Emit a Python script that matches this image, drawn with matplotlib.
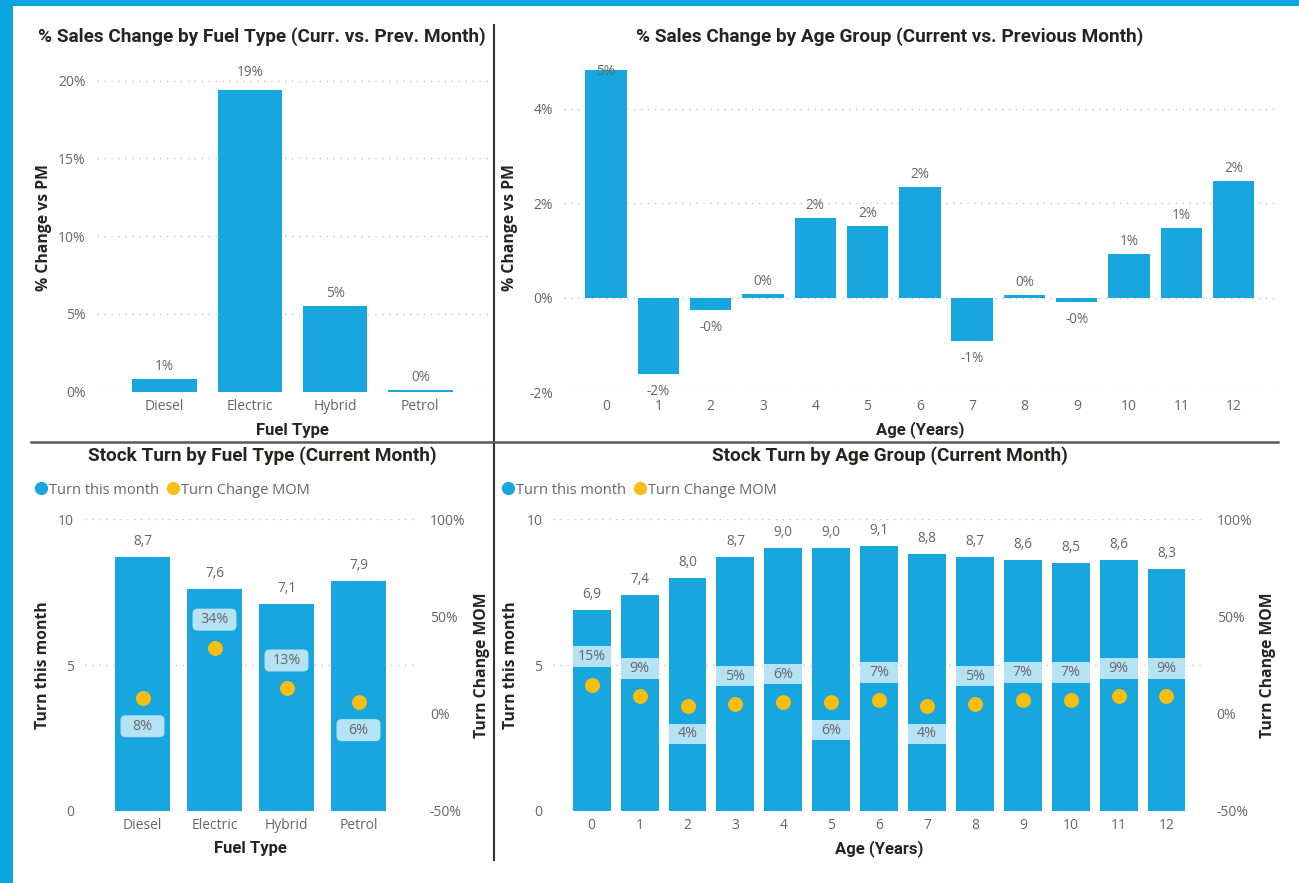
"""Stock / sales dashboard — four Power BI style panels redrawn with matplotlib."""

import matplotlib

matplotlib.use("Agg")  # headless
import matplotlib.pyplot as plt
from matplotlib.lines import Line2D
from matplotlib.patches import FancyBboxPatch, Rectangle

# ---- data -------------------------------------------------------------
fuel_types = ["Diesel", "Electric", "Hybrid", "Petrol"]
fuel_sales_change = [0.84, 19.4, 5.49, 0.13]  # % vs previous month
fuel_turn = [8.7, 7.6, 7.1, 7.9]
fuel_turn_mom = [8, 34, 13, 6]  # %

ages = ["0", "1", "2", "3", "4", "5", "6", "7", "8", "9", "10", "11", "12"]
age_sales_change = [4.81, -1.61, -0.26, 0.07, 1.69, 1.52, 2.34, -0.91, 0.05, -0.10, 0.92, 1.48, 2.46]
age_turn = [6.9, 7.4, 8.0, 8.7, 9.0, 9.0, 9.1, 8.8, 8.7, 8.6, 8.5, 8.6, 8.3]
age_turn_mom = [15, 9, 4, 5, 6, 6, 7, 4, 5, 7, 7, 9, 9]  # %

# side of the dot where the MOM label sits (1 = above, -1 = below)
fuel_label_side = [-1, 1, 1, -1]
age_label_side = [1, 1, -1, 1, 1, -1, 1, -1, 1, 1, 1, 1, 1]

# ---- style ------------------------------------------------------------
W, H = 1299, 883
BAR_BLUE = "#17A6DE"
DOT_YELLOW = "#F9BE14"
BOX_BLUE = "#B5E2F5"
FRAME_BLUE = "#0BA6E1"
GREY = "#666666"
DARK = "#252423"
GRID = "#C4C4C4"
TITLE_FONT = "Roboto"
BODY_FONT = "Open Sans"

plt.rcParams["font.family"] = BODY_FONT

fig = plt.figure(figsize=(W / 100, H / 100), dpi=100)
fig.patch.set_facecolor("white")


def axes_px(left, top, right, bottom):
    return fig.add_axes([left / W, 1 - bottom / H, (right - left) / W, (bottom - top) / H])


def text_px(x, y, s, **kw):
    kw.setdefault("ha", "center")
    kw.setdefault("va", "center")
    fig.text(x / W, 1 - y / H, s, **kw)


def style(ax):
    for sp in ax.spines.values():
        sp.set_visible(False)
    ax.tick_params(length=0, labelsize=10, labelcolor=GREY)
    ax.tick_params(axis="y", pad=8)
    ax.tick_params(axis="x", pad=5)
    ax.yaxis.grid(True, linestyle=(0, (1, 4)), color=GRID, linewidth=1)
    ax.set_axisbelow(True)


def pct(v, _pos=None):
    return f"{v:.0f}%"


def comma(v):
    return f"{v:.1f}".replace(".", ",")


def sales_panel(ax, cats, values, width, ylim, yticks):
    style(ax)
    x = list(range(len(cats)))
    ax.bar(x, values, width=width, color=BAR_BLUE)
    ax.set_xlim(-0.8, len(cats) - 0.2)
    ax.set_ylim(*ylim)
    ax.set_yticks(yticks)
    ax.yaxis.set_major_formatter(pct)
    ax.set_xticks(x, cats)
    for i, v in zip(x, values):
        if v > ylim[1] * 0.9:
            # no room above the bar, Power BI tucks the label in at the top
            ax.annotate(pct(v), (i, ylim[1]), ha="center", va="top", fontsize=9.8, color=GREY)
        elif v >= 0:
            ax.annotate(pct(v), (i, v), xytext=(0, 5), textcoords="offset pixels",
                        ha="center", va="bottom", fontsize=9.8, color=GREY)
        else:
            ax.annotate(pct(v), (i, v), xytext=(0, -10), textcoords="offset pixels",
                        ha="center", va="top", fontsize=9.8, color=GREY)


def turn_panel(ax, cats, turn, mom, sides, width, box_w, box_h_px, rounded, rpad):
    style(ax)
    x = list(range(len(cats)))
    ax.bar(x, turn, width=width, color=BAR_BLUE)
    ax.set_xlim(-0.8, len(cats) - 0.2)
    ax.set_ylim(0, 10)
    ax.set_yticks([0, 5, 10])
    ax.set_xticks(x, cats)
    for i, v in zip(x, turn):
        ax.annotate(comma(v), (i, v), xytext=(0, 8), textcoords="offset pixels",
                    ha="center", va="bottom", fontsize=9.8, color=GREY)

    ax2 = ax.twinx()
    for sp in ax2.spines.values():
        sp.set_visible(False)
    ax2.set_ylim(-50, 100)
    ax2.set_yticks([-50, 0, 50, 100])
    ax2.yaxis.set_major_formatter(pct)
    ax2.tick_params(length=0, labelsize=10, labelcolor=GREY, pad=rpad)

    # pixel scale of the twin axis, to place label boxes a fixed distance from the dots
    pos = ax2.get_position()
    px_x = pos.width * W / (len(cats) - 0.2 + 0.8)
    px_y = pos.height * H / 150.0
    off = 28 / px_y
    box_h = box_h_px / px_y
    for i, v, s in zip(x, mom, sides):
        cy = v + s * off
        if rounded:
            patch = FancyBboxPatch((i - box_w / 2, cy - box_h / 2), box_w, box_h,
                                   boxstyle="round,pad=0,rounding_size=0.07",
                                   mutation_aspect=px_x / px_y, facecolor=BOX_BLUE,
                                   edgecolor="none", zorder=2)
        else:
            patch = Rectangle((i - box_w / 2, cy - box_h / 2), box_w, box_h,
                              facecolor=BOX_BLUE, edgecolor="none", zorder=2)
        ax2.add_patch(patch)
        ax2.text(i, cy, pct(v), ha="center", va="center", fontsize=10.3, color=GREY, zorder=3)
    ax2.scatter(x, mom, s=115, color=DOT_YELLOW, zorder=4, linewidths=0)
    return ax2


def legend_px(ax, left, y):
    handles = [
        Line2D([], [], marker="o", linestyle="None", markersize=8.5, color=BAR_BLUE),
        Line2D([], [], marker="o", linestyle="None", markersize=8.5, color=DOT_YELLOW),
    ]
    leg = ax.legend(handles, ["Turn this month", "Turn Change MOM"], loc="center left",
                    bbox_to_anchor=(left / W, 1 - y / H), bbox_transform=fig.transFigure,
                    ncol=2, frameon=False, fontsize=10.5, handlelength=0.7,
                    handletextpad=0.2, columnspacing=0.6, borderpad=0, borderaxespad=0)
    for t in leg.get_texts():
        t.set_color(GREY)


title_kw = dict(family=TITLE_FONT, fontweight="bold", fontsize=13.7, color=DARK)
xlab_kw = dict(family=TITLE_FONT, fontweight="bold", fontsize=12, color=DARK)
ylab_kw = dict(fontweight="bold", fontsize=11.3, color=DARK, rotation=90)

# ---- top left: % sales change by fuel type ----
ax1 = axes_px(96.5, 65.1, 488.5, 391.7)
sales_panel(ax1, fuel_types, fuel_sales_change, 0.76, (0, 21), [0, 5, 10, 15, 20])
text_px(262, 37, "% Sales Change by Fuel Type (Curr. vs. Prev. Month)", **title_kw)
text_px(292.5, 430, "Fuel Type", **xlab_kw)
text_px(44, 228, "% Change vs PM", **ylab_kw)

# ---- top right: % sales change by age ----
ax2 = axes_px(564.2, 63.6, 1275.5, 392.3)
sales_panel(ax2, ages, age_sales_change, 0.79, (-2, 4.95), [-2, 0, 2, 4])
text_px(889.5, 37, "% Sales Change by Age Group (Current vs. Previous Month)", **title_kw)
text_px(920, 430, "Age (Years)", **xlab_kw)
text_px(510, 228, "% Change vs PM", **ylab_kw)

# ---- bottom left: stock turn by fuel type ----
ax3 = axes_px(84.9, 519.3, 416.1, 811)
turn_panel(ax3, fuel_types, fuel_turn, fuel_turn_mom, fuel_label_side,
           0.764, 0.61, 22, True, 10)
text_px(262, 456, "Stock Turn by Fuel Type (Current Month)", **title_kw)
legend_px(ax3, 36, 490)
text_px(250.5, 849, "Fuel Type", **xlab_kw)
text_px(43, 665, "Turn this month", **ylab_kw)
text_px(482, 665, "Turn Change MOM", **ylab_kw)

# ---- bottom right: stock turn by age ----
ax4 = axes_px(553.4, 519.3, 1204.8, 811)
turn_panel(ax4, ages, age_turn, age_turn_mom, age_label_side,
           0.79, 0.79, 20.7, False, 8.5)
text_px(889.5, 456, "Stock Turn by Age Group (Current Month)", **title_kw)
legend_px(ax4, 503, 490)
text_px(879, 849, "Age (Years)", **xlab_kw)
text_px(511, 665, "Turn this month", **ylab_kw)
text_px(1268, 665, "Turn Change MOM", **ylab_kw)

# ---- frame: blue page edges and panel dividers ----
fig.patches.append(Rectangle((0, 0), 12.7 / W, 1, transform=fig.transFigure,
                             facecolor=FRAME_BLUE, edgecolor="none", zorder=0))
fig.patches.append(Rectangle((0, 1 - 5.7 / H), 1, 5.7 / H, transform=fig.transFigure,
                             facecolor=FRAME_BLUE, edgecolor="none", zorder=0))
fig.add_artist(Line2D([494 / W, 494 / W], [1 - 25 / H, 1 - 860 / H], color="#333333", linewidth=1.5))
fig.add_artist(Line2D([31 / W, 1278 / W], [1 - 442 / H, 1 - 442 / H], color="#5A5A5A", linewidth=1.8))

fig.savefig("out.png", dpi=100)
